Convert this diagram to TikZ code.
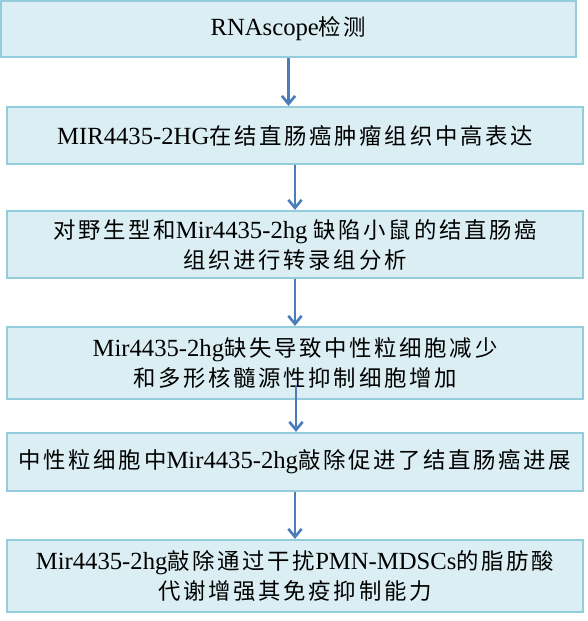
\documentclass[tikz,border=0pt]{standalone}
\usepackage{fontspec}
\setmainfont{Liberation Serif}
\newfontfamily\cjk[LetterSpace=12]{Noto Sans CJK SC}
\usepackage{tikz}
\usetikzlibrary{arrows.meta}
\usepackage{xcolor}
\definecolor{boxfill}{HTML}{DAEEF3}
\definecolor{boxline}{HTML}{93CDDD}
\definecolor{arrowblue}{HTML}{4A7EBB}
\newcommand\zh[1]{{\fontsize{16.8}{22.5}\selectfont\cjk #1}}

\begin{document}
\begin{tikzpicture}[x=0.75pt,y=-0.75pt,>={Straight Barb[length=6pt,width=10pt]},
    stagebox/.style={draw=boxline,fill=boxfill,line width=1.6pt,inner sep=0pt,
      minimum width=432pt,align=center,text=black,
      font=\fontsize{18.5}{22.5}\selectfont},
    flow/.style={->,arrowblue,line width=2pt}]
  \useasboundingbox (0,0) rectangle (587,621);
  \node[stagebox,minimum width=431.25pt,minimum height=42pt] (b1) at (288.5,29)
    {RNAscope\zh{检测}};
  \node[stagebox,minimum height=42.75pt] (b2) at (295,135.5)
    {MIR4435-2HG\zh{在结直肠癌肿瘤组织中高表达}};
  \node[stagebox,minimum height=50.25pt] (b3) at (295,244.5)
    {\zh{对野生型和}Mir4435-2hg \zh{缺陷小鼠的结直肠癌}\\\zh{组织进行转录组分析}};
  \node[stagebox,minimum height=54pt] (b4) at (295,363)
    {Mir4435-2hg\zh{缺失导致中性粒细胞减少}\\\zh{和多形核髓源性抑制细胞增加}};
  \node[stagebox,minimum height=43.5pt] (b5) at (295,462)
    {\zh{中性粒细胞中}Mir4435-2hg\zh{敲除促进了结直肠癌进展}};
  \node[stagebox,minimum height=54pt] (b6) at (295,576)
    {Mir4435-2hg\zh{敲除通过干扰}PMN-MDSCs\zh{的脂肪酸}\\\zh{代谢增强其免疫抑制能力}};
  \coordinate (t4) at (296,385);
  \draw[flow] (b1.south) -- (b1.south |- b2.north);
  \draw[flow] (b2.south) -- (b3.north);
  \draw[flow] (b3.south) -- (b4.north);
  \draw[flow] (t4) -- (t4 |- b5.north);
  \draw[flow] (b5.south) -- (b6.north);
\end{tikzpicture}
\end{document}
